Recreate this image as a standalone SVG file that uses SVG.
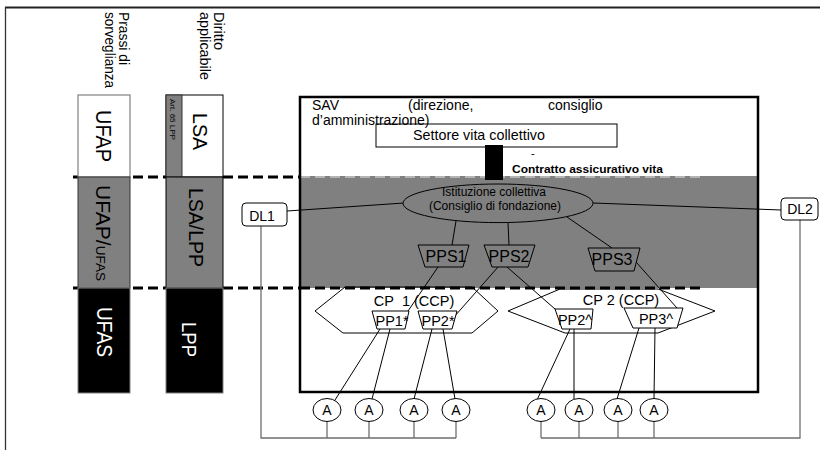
<svg xmlns="http://www.w3.org/2000/svg" width="820" height="450" viewBox="0 0 820 450">
<style>
text{font-family:"Liberation Sans",Arial,sans-serif;fill:#000}
.ln{stroke:#000;stroke-width:1;fill:none}
.gl{stroke:#6e6e6e;stroke-width:1.3;fill:none}
.dash{stroke:#000;stroke-width:3;stroke-dasharray:10 5;fill:none}
.trg{fill:#808080;stroke:#000;stroke-width:1}
.trw{fill:#fff;stroke:#000;stroke-width:1}
.a{fill:#fff;stroke:#000;stroke-width:1}
.at{font-size:14px;text-anchor:middle}
.pps{font-size:16px;text-anchor:middle}
.pp{font-size:14.5px;text-anchor:middle}
.dl{font-size:14px;text-anchor:middle}
</style>
<rect width="820" height="450" fill="#fff"/>
<!-- page frame -->
<line x1="5" y1="7.5" x2="820" y2="7.5" stroke="#222" stroke-width="2"/>
<line x1="5.5" y1="7" x2="5.5" y2="450" stroke="#333" stroke-width="1.3"/>

<!-- dashed level lines (under columns) -->
<g id="levels">
<line class="dash" x1="73" y1="177" x2="300" y2="177"/>
<line class="dash" x1="73" y1="288" x2="300" y2="288"/>
</g>

<!-- column headers -->
<g id="header-prassi" font-size="14">
<text transform="translate(119,12) rotate(90)" textLength="53" lengthAdjust="spacingAndGlyphs">Prassi di</text>
<text transform="translate(105,12) rotate(90)" textLength="76" lengthAdjust="spacingAndGlyphs">sorveglianza</text>
</g>
<g id="header-diritto" font-size="14">
<text transform="translate(214,12) rotate(90)" textLength="38" lengthAdjust="spacingAndGlyphs">Diritto</text>
<text transform="translate(200,12) rotate(90)" textLength="68" lengthAdjust="spacingAndGlyphs">applicabile</text>
</g>

<!-- supervision column -->
<g id="ufap">
<rect x="78" y="95" width="52" height="82" fill="#fff" stroke="#808080" stroke-width="1.2"/>
<text transform="translate(96,110) rotate(90)" font-size="22" textLength="52" lengthAdjust="spacingAndGlyphs">UFAP</text>
</g>
<g id="ufap-ufas">
<rect x="78" y="177" width="52" height="111" fill="#808080" stroke="#333" stroke-width="1"/>
<text transform="translate(96,185) rotate(90)" font-size="21">UFAP/<tspan font-size="13.5">UFAS</tspan></text>
</g>
<g id="ufas">
<rect x="78" y="288" width="52" height="105" fill="#000" stroke="#808080" stroke-width="1"/>
<text transform="translate(97,307) rotate(90)" font-size="22" style="fill:#fff" textLength="50" lengthAdjust="spacingAndGlyphs">UFAS</text>
</g>

<!-- law column -->
<g id="lsa">
<rect x="166" y="95" width="57" height="82" fill="#fff" stroke="#000" stroke-width="1"/>
<rect x="166" y="95" width="16" height="82" fill="#808080" stroke="#333" stroke-width="1"/>
<text transform="translate(170,99) rotate(90)" font-size="8">Art. 65 LPP</text>
<text transform="translate(193,113) rotate(90)" font-size="20" textLength="37" lengthAdjust="spacingAndGlyphs">LSA</text>
</g>
<g id="lsa-lpp">
<rect x="166" y="177" width="57" height="111" fill="#808080" stroke="#000" stroke-width="1"/>
<text transform="translate(189,188) rotate(90)" font-size="20" textLength="79" lengthAdjust="spacingAndGlyphs">LSA/LPP</text>
</g>
<g id="lpp">
<rect x="166" y="288" width="57" height="105" fill="#000" stroke="#808080" stroke-width="1"/>
<text transform="translate(182,322) rotate(90)" font-size="20" style="fill:#fff" textLength="35" lengthAdjust="spacingAndGlyphs">LPP</text>
</g>

<!-- SAV box -->
<g id="sav">
<rect x="300" y="97" width="458" height="295" fill="#fff" stroke="none"/>
<rect x="300" y="176" width="458" height="112" fill="#808080"/>
<line x1="300" y1="177" x2="703" y2="177" stroke="#b4b4b4" stroke-width="2" stroke-dasharray="10 5"/>
<rect x="300" y="97" width="458" height="295" fill="none" stroke="#000" stroke-width="2.5"/>
<text x="312" y="110" font-size="14">SAV</text>
<text x="408" y="110" font-size="14">(direzione,</text>
<text x="548" y="110" font-size="14">consiglio</text>
<text x="312" y="125" font-size="14">d’amministrazione)</text>
</g>

<g id="settore">
<rect x="376" y="124" width="241" height="23" fill="none" stroke="#000" stroke-width="1"/>
<text x="413" y="140" font-size="14.3">Settore vita collettivo</text>
</g>

<g id="contratto">
<rect x="485" y="145" width="18" height="35" fill="#000"/>
<text x="531" y="157" font-size="11">-</text>
<text x="512" y="173" font-size="11.5" font-weight="bold" textLength="151" lengthAdjust="spacingAndGlyphs">Contratto assicurativo vita</text>
</g>

<!-- connectors -->
<g id="connectors">
<line class="ln" x1="287" y1="211" x2="404" y2="203"/>
<line class="ln" x1="593" y1="203" x2="781" y2="210"/>
<line class="ln" x1="456" y1="221" x2="452" y2="245"/>
<line class="ln" x1="508" y1="223" x2="509" y2="245"/>
<line class="ln" x1="567" y1="217" x2="612" y2="248"/>
<line class="ln" x1="438" y1="267" x2="408" y2="311"/>
<line class="ln" x1="498" y1="267" x2="454" y2="317"/>
<line class="ln" x1="507" y1="267" x2="563" y2="316"/>
<line class="ln" x1="636" y1="262" x2="677" y2="308"/>
<line class="ln" x1="380" y1="329" x2="335" y2="400"/>
<line class="ln" x1="390" y1="329" x2="372" y2="399"/>
<line class="ln" x1="432" y1="329" x2="414" y2="399"/>
<line class="ln" x1="443" y1="329" x2="455" y2="399"/>
<line class="ln" x1="570" y1="329" x2="537" y2="400"/>
<line class="ln" x1="574" y1="329" x2="574" y2="399"/>
<line class="ln" x1="639" y1="328" x2="617" y2="399"/>
<line class="ln" x1="655" y1="328" x2="654" y2="399"/>
<polyline class="gl" points="261,226 261,438 456,438"/>
<polyline class="gl" points="800,220 800,438 541,438"/>
<line class="gl" x1="327" y1="421" x2="327" y2="438"/>
<line class="gl" x1="369" y1="421" x2="369" y2="438"/>
<line class="gl" x1="414" y1="421" x2="414" y2="438"/>
<line class="gl" x1="456" y1="421" x2="456" y2="438"/>
<line class="gl" x1="541" y1="421" x2="541" y2="438"/>
<line class="gl" x1="579" y1="421" x2="579" y2="438"/>
<line class="gl" x1="618" y1="421" x2="618" y2="438"/>
<line class="gl" x1="654" y1="421" x2="654" y2="438"/>
</g>

<g id="istituzione">
<ellipse cx="498" cy="203.3" rx="95" ry="19.3" fill="#808080" stroke="#000" stroke-width="1"/>
<text x="494" y="196" font-size="12" text-anchor="middle">Istituzione collettiva</text>
<text x="495" y="210" font-size="12" text-anchor="middle">(Consiglio di fondazione)</text>
</g>

<g id="dl1">
<rect x="242" y="203" width="45" height="23" rx="4" fill="#fff" stroke="#000" stroke-width="1"/>
<text class="dl" x="262" y="221">DL1</text>
</g>
<g id="dl2">
<rect x="781" y="198" width="37" height="22" rx="4" fill="#fff" stroke="#000" stroke-width="1"/>
<text class="dl" x="800" y="214">DL2</text>
</g>

<g id="pps1">
<polygon class="trg" points="418,245 469,245 463,267 425,267"/>
<text class="pps" x="446" y="262">PPS1</text>
</g>
<g id="pps2">
<polygon class="trg" points="484,245 535,245 528,267 492,267"/>
<text class="pps" x="509" y="262">PPS2</text>
</g>
<g id="pps3">
<polygon class="trg" points="588,248 640,248 634,271 595,271"/>
<text class="pps" x="612" y="265">PPS3</text>
</g>

<g id="cp1">
<polygon points="315,311 345,287 472,287 498,311 472,333 343,333" fill="none" stroke="#000" stroke-width="1"/>
<text x="414" y="306" font-size="14.5" text-anchor="middle">CP&#160; 1 (CCP)</text>
</g>
<g id="cp2">
<polygon points="508,311 560,289 658,289 715,311 658,333 565,333" fill="none" stroke="#000" stroke-width="1"/>
<text x="621" y="305" font-size="14.5" text-anchor="middle">CP 2 (CCP)</text>
</g>

<g id="pp1">
<polygon class="trw" points="372,311 409,311 405,329 377,329"/>
<text class="pp" x="392" y="326">PP1*</text>
</g>
<g id="pp2a">
<polygon class="trw" points="418,311 457,311 452,329 423,329"/>
<text class="pp" x="438" y="326">PP2*</text>
</g>
<g id="pp2b">
<polygon class="trw" points="555,309 593,309 591,329 562,329"/>
<text class="pp" x="575" y="325">PP2^</text>
</g>
<g id="pp3">
<polygon class="trw" points="624,308 683,308 677,328 633,328"/>
<text class="pp" x="656" y="324">PP3^</text>
</g>

<!-- bottom level line drawn over the SAV box -->
<line class="dash" x1="300" y1="288" x2="703" y2="288"/>

<g id="a1"><ellipse class="a" cx="327" cy="410" rx="14" ry="11.5"/><text class="at" x="327" y="415">A</text></g>
<g id="a2"><ellipse class="a" cx="369" cy="410" rx="14" ry="11.5"/><text class="at" x="369" y="415">A</text></g>
<g id="a3"><ellipse class="a" cx="414" cy="410" rx="14" ry="11.5"/><text class="at" x="414" y="415">A</text></g>
<g id="a4"><ellipse class="a" cx="456" cy="410" rx="14" ry="11.5"/><text class="at" x="456" y="415">A</text></g>
<g id="a5"><ellipse class="a" cx="541" cy="410" rx="14" ry="11.5"/><text class="at" x="541" y="415">A</text></g>
<g id="a6"><ellipse class="a" cx="579" cy="410" rx="14" ry="11.5"/><text class="at" x="579" y="415">A</text></g>
<g id="a7"><ellipse class="a" cx="618" cy="410" rx="14" ry="11.5"/><text class="at" x="618" y="415">A</text></g>
<g id="a8"><ellipse class="a" cx="654" cy="410" rx="14" ry="11.5"/><text class="at" x="654" y="415">A</text></g>
</svg>
